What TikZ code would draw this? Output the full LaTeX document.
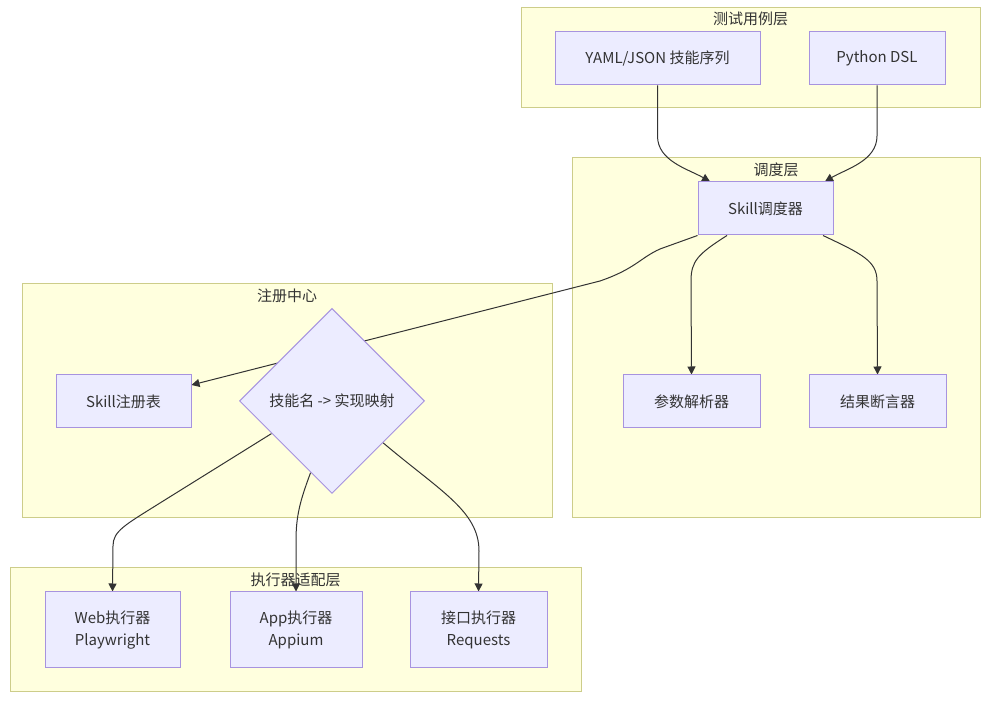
\documentclass[tikz,border=0pt]{standalone}
\usepackage{fontspec}
\setmainfont{Noto Sans CJK SC}
\usetikzlibrary{shapes.geometric,arrows.meta,calc}
\definecolor{clfill}{HTML}{FFFFDE}
\definecolor{cldraw}{HTML}{CDCD8A}
\definecolor{ndfill}{HTML}{ECECFF}
\definecolor{nddraw}{HTML}{A793DF}
\definecolor{edge}{HTML}{333333}
\definecolor{txt}{HTML}{333333}
\pgfdeclarelayer{bg}
\pgfdeclarelayer{edges}
\pgfsetlayers{bg,edges,main}
\begin{document}
\begin{tikzpicture}[x=1pt,y=1pt,
  every node/.style={font=\fontsize{15}{22}\selectfont, text=txt},
  cluster/.style={draw=cldraw, fill=clfill, line width=1pt, inner sep=0pt},
  ctitle/.style={inner sep=0pt, anchor=center},
  box/.style={draw=nddraw, fill=ndfill, line width=1pt, inner sep=0pt, align=center, minimum height=53pt},
  tallbox/.style={box, minimum height=76pt},
  dia/.style={draw=nddraw, fill=ndfill, line width=1pt, diamond, aspect=1, inner sep=0pt, minimum size=185pt},
  arr/.style={draw=edge, line width=1pt, -{Triangle[length=8pt,width=8pt]}}
]
\useasboundingbox (0,0) rectangle (991,701);

% nodes
\node[box, minimum width=205pt] (yaml) at (657.5,642.5) {YAML/JSON 技能序列};
\node[box, minimum width=136pt] (py) at (877,642.5) {Python DSL};
\node[box, minimum width=135pt] (disp) at (765.5,492.5) {Skill调度器};
\node[box, minimum width=137pt] (parse) at (691.5,299.5) {参数解析器};
\node[box, minimum width=137pt] (assert) at (877.5,299.5) {结果断言器};
\node[box, minimum width=135pt] (regt) at (123.5,299.5) {Skill注册表};
\node[dia] (map) at (332,300) {技能名 -> 实现映射};
\node[tallbox, minimum width=135pt] (web) at (112.5,71) {Web执行器\\Playwright};
\node[tallbox, minimum width=132pt] (app) at (296,71) {App执行器\\Appium};
\node[tallbox, minimum width=137pt] (api) at (478.5,71) {接口执行器\\Requests};

% clusters
\begin{pgfonlayer}{bg}
\fill[white] (0,0) rectangle (991,701);
\node[cluster, minimum width=459pt, minimum height=100pt] (ctc) at (750.5,643) {};
\node[cluster, minimum width=408pt, minimum height=360pt] (csc) at (776,363) {};
\node[cluster, minimum width=530pt, minimum height=234pt] (crg) at (287,300) {};
\node[cluster, minimum width=571pt, minimum height=124pt] (cex) at (295.5,71) {};
\node[ctitle] (ttc) at ($(ctc.north)+(0,-11)$) {测试用例层};
\node[ctitle] (tsc) at ($(csc.north)+(0,-12)$) {调度层};
\node[ctitle] (trg) at ($(crg.north)+(0,-12)$) {注册中心};
\node[ctitle] (tex) at ($(cex.north)+(0,-12)$) {执行器适配层};
\end{pgfonlayer}

% edges
\begin{pgfonlayer}{edges}
\draw[arr] (yaml.south) -- (657.5,565) .. controls (657.5,540) and (688,532) .. ([xshift=-55.5]disp.north);
\draw[arr] (py.south) -- (877,565) .. controls (877,540) and (846,532) .. ([xshift=59.5]disp.north);
\draw[arr] ([xshift=-38.5]disp.south) .. controls (698,447) and (691,440) .. (691,420) -- (parse.north);
\draw[arr] ([xshift=57.5]disp.south) .. controls (862,447) and (877,440) .. (877,420) -- (assert.north);
\draw[arr] (disp.south west) -- (660,452) .. controls (640,443) and (635,432) .. (600,420) -- ([yshift=16.5]regt.east);
\draw[arr] ($(map.west)!0.35!(map.south)$) -- (160,198) .. controls (125,176) and (113,170) .. (113,155) -- (web.north);
\draw[arr] ($(map.west)!0.77!(map.south)$) .. controls (300,200) and (296,185) .. (296,160) -- (app.north);
\draw[arr] ($(map.east)!0.45!(map.south)$) .. controls (440,210) and (479,190) .. (479,150) -- (api.north);
\end{pgfonlayer}
\end{tikzpicture}
\end{document}
